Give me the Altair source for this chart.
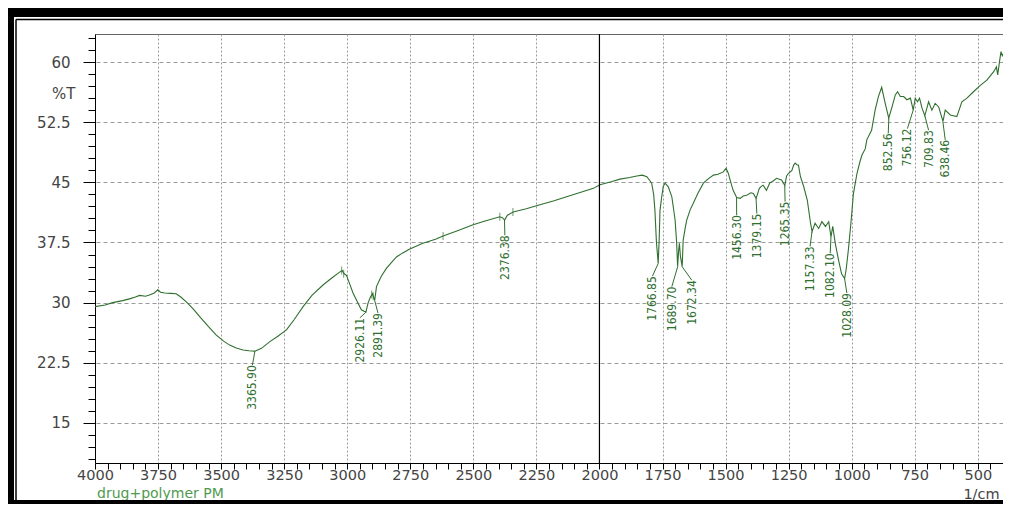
import altair as alt
import pandas as pd

# ---------------- data ----------------
wavenumber = [
    4000, 3960, 3930, 3890, 3860, 3840, 3823, 3800, 3784, 3765, 3751, 3740, 3724, 3700,
    3678, 3660, 3638, 3610, 3585, 3550, 3519, 3490, 3466, 3440, 3413, 3390, 3366, 3340,
    3308, 3275, 3241, 3210, 3175, 3140, 3096, 3060, 3030, 3020, 3012, 3003, 2990, 2977,
    2960, 2944, 2926, 2917, 2908, 2900, 2891, 2884, 2865, 2844, 2825, 2805, 2780, 2752,
    2700, 2650, 2620, 2560, 2501, 2450, 2395, 2385, 2376, 2365, 2342, 2290, 2236, 2180,
    2130, 2080, 2024, 1998, 1950, 1919, 1880, 1852, 1830, 1812, 1800, 1793, 1785, 1780,
    1774, 1767, 1763, 1760, 1753, 1747, 1740, 1727, 1713, 1700, 1694, 1690, 1686, 1683,
    1679, 1672, 1668, 1660, 1654, 1640, 1628, 1610, 1588, 1570, 1548, 1530, 1509, 1498,
    1490, 1482, 1470, 1456, 1442, 1430, 1416, 1400, 1390, 1379, 1366, 1358, 1351, 1338,
    1325, 1310, 1298, 1278, 1265, 1258, 1251, 1237, 1230, 1224, 1217, 1211, 1203, 1190,
    1176, 1163, 1157, 1145, 1131, 1118, 1104, 1091, 1082, 1075, 1065, 1052, 1040, 1028,
    1022, 1013, 1003, 993, 979, 967, 959, 946, 940, 921, 907, 894, 881, 867, 853, 840,
    827, 818, 807, 794, 781, 767, 756, 748, 739, 731, 721, 710, 695, 682, 669, 655, 638,
    629, 609, 583, 563, 543, 517, 490, 464, 437, 426, 421, 413, 408, 403, 400,
]
transmittance = [
    29.5, 29.7, 30.0, 30.25, 30.5, 30.7, 30.9, 30.8, 30.95, 31.2, 31.6, 31.3, 31.2, 31.15,
    31.1, 30.7, 30.1, 29.2, 28.25, 27.0, 25.95, 25.2, 24.7, 24.35, 24.1, 24.0, 23.95, 24.3,
    25.1, 25.8, 26.6, 27.9, 29.5, 30.9, 32.2, 33.1, 33.8, 34.0, 33.6, 33.4, 32.3, 31.2,
    30.1, 29.1, 28.8, 30.0, 30.7, 31.1, 30.3, 32.0, 33.3, 34.3, 35.0, 35.7, 36.2, 36.7,
    37.4, 37.9, 38.3, 39.0, 39.7, 40.2, 40.7, 40.6, 40.3, 40.9, 41.3, 41.7, 42.2, 42.7,
    43.2, 43.7, 44.25, 44.7, 45.1, 45.4, 45.6, 45.8, 45.9, 45.7, 45.2, 44.9, 43.5, 41.5,
    37.5, 34.9, 38.0, 41.5, 43.2, 44.5, 44.9, 44.45, 43.2, 40.3, 37.5, 34.5, 36.5, 37.4,
    35.8, 34.5, 37.8, 39.3, 40.3, 41.6, 42.4, 43.6, 44.9, 45.4, 45.9, 46.0, 46.3, 46.75,
    46.2, 45.3, 44.0, 43.1, 43.0, 43.3, 43.4, 43.7, 43.6, 43.0, 44.25, 44.5, 44.65, 44.0,
    44.9, 45.2, 45.5, 45.3, 44.6, 45.8, 46.1, 46.5, 47.15, 47.4, 47.2, 47.15, 45.7, 44.45,
    42.8, 39.9, 38.85, 39.9, 39.25, 40.1, 39.5, 40.1, 38.2, 39.5, 37.4, 35.3, 33.6, 33.0,
    34.1, 36.6, 39.9, 43.6, 46.1, 47.6, 48.4, 49.2, 50.3, 51.5, 54.0, 55.7, 56.85, 54.85, 53.0, 54.4,
    55.9, 56.3, 55.7, 55.7, 55.3, 55.5, 54.0, 55.5, 55.05, 55.5, 54.25, 53.3, 55.05, 54.0, 54.85, 54.4, 52.6,
    54.0, 53.4, 53.2, 55.05, 55.5, 56.3, 57.1, 57.75, 58.8, 59.4, 58.4, 60.25, 61.3, 60.8, 61.0,
]

peak_labels = ["3365.90", "2926.11", "2891.39", "2376.38", "1766.85", "1689.70", "1672.34",
               "1456.30", "1379.15", "1265.35", "1157.33", "1082.10", "1028.09",
               "852.56", "756.12", "709.83", "638.46"]
peak_wn = [3365.9, 2926.11, 2891.39, 2376.38, 1766.85, 1689.70, 1672.34,
           1456.30, 1379.15, 1265.35, 1157.33, 1082.10, 1028.09,
           852.56, 756.12, 709.83, 638.46]
peak_T = [23.95, 28.8, 30.3, 40.3, 34.9, 34.5, 34.5,
          43.1, 43.0, 44.6, 38.85, 38.2, 33.0,
          53.0, 54.0, 53.3, 52.6]
label_wn = [3376, 2950, 2878, 2375, 1790, 1713, 1634,
            1456, 1376, 1264, 1165, 1085, 1019,
            855, 779, 695, 629]
label_T = [22.2, 28.1, 28.7, 38.4, 33.3, 32.0, 32.8,
           40.9, 41.1, 42.6, 37.0, 36.15, 31.2,
           51.1, 51.7, 51.5, 50.3]

marker_wn = [3022, 3014, 2903, 2897, 2620, 2395, 2343]
marker_T = [34.0, 33.6, 31.0, 30.8, 38.3, 40.7, 41.3]

x_ticks = list(range(400, 4001, 50))
y_ticks = [10.5 + 1.5 * i for i in range(36)]
divider_wn = [2000]

# ---------------- styling ----------------
GREEN = "#2f6f2f"
LABEL_FONT = "DejaVu Sans"
NARROW_FONT = "DejaVu Sans Condensed, Liberation Sans Narrow, Liberation Sans, sans-serif"

PLOT_W, PLOT_H = 908, 429
PAD = {"left": 87, "top": 26, "right": 0, "bottom": 41}

xscale = alt.Scale(domain=[400, 4000], reverse=True, nice=False, zero=False)
yscale = alt.Scale(domain=[10, 63.5], nice=False, zero=False)

xaxis = alt.Axis(
    values=x_ticks,
    labelExpr="(datum.value % 250 === 0 && datum.value >= 500) ? format(datum.value, 'd') : ''",
    labelOverlap=False, labelFlush=False, labelBound=False,
    labelFont=LABEL_FONT, labelFontSize=14.5, labelColor="#444", labelPadding=-1,
    tickSize=6, tickColor="black", domainColor="black",
    grid=True, gridColor="#9a9a9a", gridDash=[2, 2],
    gridOpacity={"condition": {"test": "datum.value % 250 === 0", "value": 1}, "value": 0},
    title="1/cm", titleX=886, titleY=31, titleAngle=0, titleAlign="center",
    titleBaseline="middle", titleFont=LABEL_FONT, titleFontSize=14.5,
    titleFontWeight="normal", titleColor="#444",
)
yaxis = alt.Axis(
    values=y_ticks,
    labelExpr="(datum.value % 7.5 === 0) ? format(datum.value, '~g') : ''",
    labelOverlap=False, labelFlush=False, labelBound=False,
    labelFont=LABEL_FONT, labelFontSize=15, labelColor="#444", labelPadding=13,
    tickSize={"condition": {"test": "datum.value % 7.5 === 0", "value": 12}, "value": 7},
    tickColor="black", domainColor="black",
    grid=True, gridColor="#9a9a9a", gridDash=[4, 3],
    gridOpacity={"condition": {"test": "datum.value % 7.5 === 0", "value": 1}, "value": 0},
    title="%T", titleX=-20, titleY=59, titleAngle=0, titleAlign="right",
    titleBaseline="middle", titleFont=LABEL_FONT, titleFontSize=15,
    titleFontWeight="normal", titleColor="#444",
)

curve_df = pd.DataFrame({"wn": wavenumber, "T": transmittance})
peaks_df = pd.DataFrame({"label": peak_labels, "wn": peak_wn, "T": peak_T,
                         "lwn": label_wn, "lT": label_T})
markers_df = pd.DataFrame({"wn": marker_wn, "T": marker_T})
divider_df = pd.DataFrame({"wn": divider_wn})
one = pd.DataFrame({"a": [0]})

curve = alt.Chart(curve_df).mark_line(color=GREEN, strokeWidth=1.1).encode(
    x=alt.X("wn:Q", scale=xscale, axis=xaxis),
    y=alt.Y("T:Q", scale=yscale, axis=yaxis),
)

markers = alt.Chart(markers_df).mark_tick(color=GREEN, orient="vertical", size=8, thickness=1).encode(
    x=alt.X("wn:Q", scale=xscale, axis=xaxis),
    y=alt.Y("T:Q", scale=yscale, axis=yaxis),
)

leaders = alt.Chart(peaks_df).mark_rule(color=GREEN, strokeWidth=1).encode(
    x=alt.X("wn:Q", scale=xscale, axis=xaxis),
    y=alt.Y("T:Q", scale=yscale, axis=yaxis),
    x2="lwn:Q",
    y2="lT:Q",
)

labels = alt.Chart(peaks_df).mark_text(
    angle=270, align="right", baseline="middle", color=GREEN,
    font=NARROW_FONT, fontSize=12,
).encode(
    x=alt.X("lwn:Q", scale=xscale, axis=xaxis),
    y=alt.Y("lT:Q", scale=yscale, axis=yaxis),
    text="label:N",
)

divider = alt.Chart(divider_df).mark_rule(color="black", strokeWidth=1.2).encode(
    x=alt.X("wn:Q", scale=xscale, axis=xaxis),
)

sample_name = alt.Chart(one).mark_text(
    align="left", baseline="middle", color="#4f9a4f", font=LABEL_FONT, fontSize=14,
    text="drug+polymer PM",
).encode(x=alt.value(2), y=alt.value(PLOT_H + 31))

# picture frame (decoration around the whole image)
total_h = PAD["top"] + PLOT_H + PAD["bottom"]
frame_top = alt.Chart(one).mark_rule(color="black", strokeWidth=9).encode(
    x=alt.value(-87), x2=alt.value(930), y=alt.value(-21.5))
frame_top_thin = alt.Chart(one).mark_rule(color="black", strokeWidth=1.5).encode(
    x=alt.value(-79), x2=alt.value(930), y=alt.value(-14.5))
frame_left = alt.Chart(one).mark_rule(color="black", strokeWidth=6).encode(
    x=alt.value(-84), y=alt.value(-26), y2=alt.value(total_h - 26))
frame_left_thin = alt.Chart(one).mark_rule(color="black", strokeWidth=1.5).encode(
    x=alt.value(-79), y=alt.value(-14.5), y2=alt.value(total_h - 26 - 4))
frame_bottom = alt.Chart(one).mark_rule(color="black", strokeWidth=4).encode(
    x=alt.value(-87), x2=alt.value(930), y=alt.value(total_h - 26 - 2))

chart = alt.layer(
    curve, markers, leaders, labels, divider, sample_name,
    frame_top, frame_top_thin, frame_left, frame_left_thin, frame_bottom,
).properties(
    width=PLOT_W, height=PLOT_H,
    autosize="none",
    padding=PAD,
    background="white",
).configure_view(stroke="#666", strokeWidth=1)

chart.save("out.html", embed_options={"renderer": "svg", "actions": False})
